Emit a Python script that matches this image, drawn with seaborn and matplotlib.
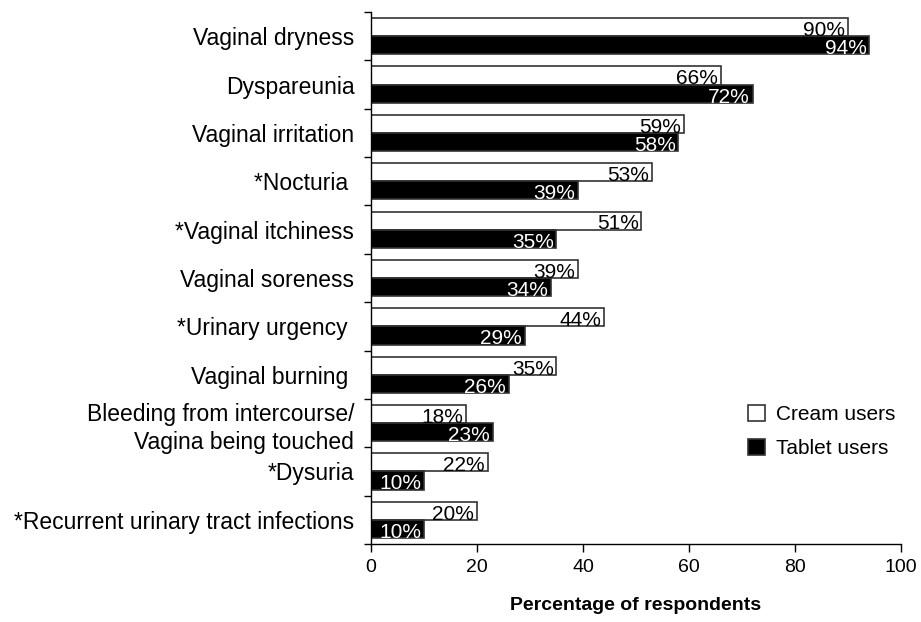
import numpy as np
import pandas as pd
import seaborn as sns
from matplotlib import pyplot as plt

symptoms = ["Vaginal dryness", "Dyspareunia", "Vaginal irritation", "*Nocturia ",
            "*Vaginal itchiness", "Vaginal soreness", "*Urinary urgency ",
            "Vaginal burning ", "Bleeding from intercourse/\nVagina being touched",
            "*Dysuria", "*Recurrent urinary tract infections"]
cream = [90, 66, 59, 53, 51, 39, 44, 35, 18, 22, 20]
tablet = [94, 72, 58, 39, 35, 34, 29, 26, 23, 10, 10]
groups = ["Cream users", "Tablet users"]

df = pd.DataFrame({
    "symptom": symptoms * 2,
    "value": cream + tablet,
    "group": [groups[0]] * len(cream) + [groups[1]] * len(tablet),
})

sns.set_theme(style="ticks")
plt.rcParams["font.family"] = ["Liberation Sans", "DejaVu Sans"]
plt.rcParams.update({"text.color": "black", "axes.labelcolor": "black",
                     "xtick.color": "black", "ytick.color": "black"})

fig = plt.figure(figsize=(9.21, 6.22), dpi=100)
ax = fig.add_axes([0.4028, 0.1254, 0.5755, 0.8553])

sns.barplot(data=df, x="value", y="symptom", hue="group", orient="h",
            palette={"Cream users": "white", "Tablet users": "black"},
            edgecolor="#333333", linewidth=1.2, width=0.75, ax=ax)

# percentage labels inside the bar ends
for cont, vals, col in zip(ax.containers, [cream, tablet], ["black", "white"]):
    for p, v in zip(cont.patches, vals):
        ax.text(p.get_width() - 0.5, p.get_y() + p.get_height() / 2 + 0.07, f"{v}%",
                ha="right", va="center", color=col, fontsize=15)

ax.set_xlim(0, 100)
ax.set_ylim(len(symptoms) - 0.5, -0.5)
ax.set_xticks([0, 20, 40, 60, 80, 100])
ax.tick_params(axis="x", labelsize=14, length=6, width=1, pad=5)
ax.tick_params(axis="y", which="major", length=0, labelsize=16.5, pad=12)
ax.set_yticks(np.arange(-0.5, len(symptoms), 1), minor=True)
ax.tick_params(axis="y", which="minor", length=5, width=1)
ax.set_ylabel("")
ax.set_xlabel("Percentage of respondents", fontsize=14, fontweight="bold", labelpad=15)
for lab in ax.get_yticklabels():
    lab.set_multialignment("right")
    lab.set_linespacing(1.3)

sns.despine(ax=ax)
for s in ["left", "bottom"]:
    ax.spines[s].set_color("black")
    ax.spines[s].set_linewidth(1)

h, l = ax.get_legend_handles_labels()
ax.legend(h, l, frameon=False, loc="center left", bbox_to_anchor=(0.711, 0.211),
          borderaxespad=0, borderpad=0, fontsize=15, handlelength=0.82,
          handleheight=0.82, handletextpad=0.53, labelspacing=0.7)

plt.savefig("out.png", dpi=100)
